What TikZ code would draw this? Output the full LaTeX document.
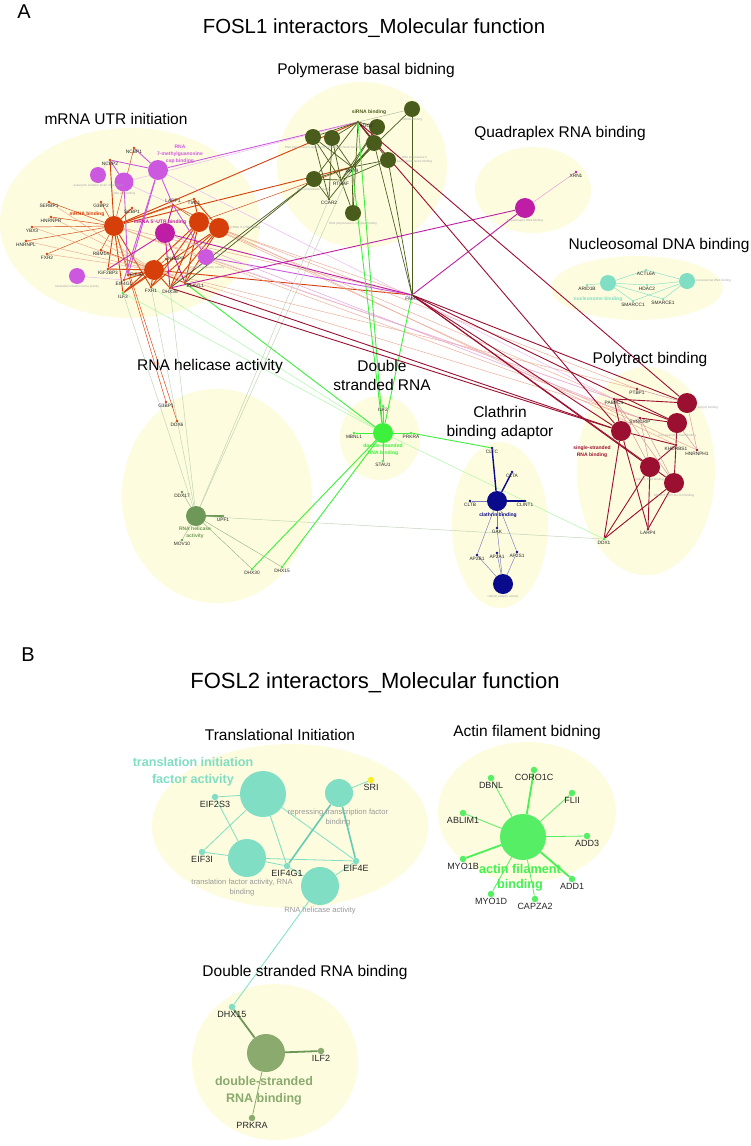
\documentclass[tikz,border=0pt]{standalone}
\usepackage{fontspec}
\setmainfont{Liberation Sans}
\usetikzlibrary{positioning}
\newcommand\myfs[2]{\fontsize{#1}{#2}\selectfont}
\definecolor{bgy}{RGB}{253,252,222}
\definecolor{cor}{RGB}{214,62,10}
\definecolor{cpk}{RGB}{205,88,224}
\definecolor{cmg}{RGB}{190,30,165}
\definecolor{cdg}{RGB}{74,92,28}
\definecolor{cgr}{RGB}{60,240,60}
\definecolor{ctl}{RGB}{128,222,196}
\definecolor{chl}{RGB}{110,152,88}
\definecolor{cnv}{RGB}{10,10,140}
\definecolor{ccr}{RGB}{155,15,48}
\definecolor{cac}{RGB}{85,238,100}
\definecolor{csg}{RGB}{138,170,110}
\definecolor{cyl}{RGB}{245,240,40}
\pgfdeclarelayer{ellay}
\pgfdeclarelayer{edlay}
\pgfsetlayers{ellay,edlay,main}
\begin{document}
\begin{tikzpicture}[x=1pt,y=-1pt,
  big/.style={circle,inner sep=0pt,minimum size=#1,draw=none},
  dt/.style={circle,inner sep=0pt,minimum size=2.6,fill=#1},
  bdt/.style={circle,inner sep=0pt,minimum size=6.5,fill=#1},
  gl/.style={font=\myfs{4.8}{5.5},text=black!85,inner sep=0.4pt},
  bgl/.style={font=\myfs{9}{10},text=black!85,inner sep=1pt},
  tl/.style={font=\myfs{3}{3.6},text=black!35,inner sep=0pt,align=center},
  ttl/.style={font=\myfs{15.5}{19},inner sep=0pt,align=center},
  cl/.style={font=\bfseries\myfs{5}{7},inner sep=0pt,align=center,text=#1},
  lk/.style={draw=#1,line width=0.9},
  lkt/.style={draw=#1,line width=0.45},
  lkf/.style={draw=#1!45,line width=0.45},
]
\useasboundingbox (0,0) rectangle (750,1146);
% ---------------- ellipses
\begin{pgfonlayer}{ellay}
\fill[white] (0,0) rectangle (750,1146);
\fill[bgy] (130,223) ellipse [x radius=130, y radius=95];
\fill[bgy] (362,165) ellipse [x radius=85, y radius=83];
\fill[bgy] (533,190) ellipse [x radius=58, y radius=43];
\fill[bgy] (637,288) ellipse [x radius=86, y radius=32];
\fill[bgy] (217,496) ellipse [x radius=95, y radius=107];
\fill[bgy] (380,438) ellipse [x radius=40, y radius=42];
\fill[bgy] (500,525) ellipse [x radius=48, y radius=83];
\fill[bgy] (646,471) ellipse [x radius=69, y radius=104];
\fill[bgy] (290,826) ellipse [x radius=138, y radius=82];
\fill[bgy] (527,812) ellipse [x radius=89, y radius=70];
\fill[bgy] (275,1062) ellipse [x radius=83, y radius=78];
\end{pgfonlayer}
% ---------------- titles
\node[font=\myfs{20}{22},inner sep=0] (tA) at (24,12) {A};
\node[font=\myfs{20.4}{24},inner sep=0] (tA1) at (374,28) {FOSL1 interactors\_Molecular function};
\node[ttl] (tpol) at (366,70) {Polymerase basal bidning};
\node[ttl] (tmrna) at (116,119) {mRNA UTR initiation};
\node[ttl] (tquad) at (560,133) {Quadraplex RNA binding};
\node[ttl] (tnuc) at (659,245) {Nucleosomal DNA binding};
\node[ttl] (thel) at (210,366) {RNA helicase activity};
\node[ttl] (tds) at (382,375) {Double\\stranded RNA};
\node[ttl] (tcl) at (500,423) {Clathrin\\binding adaptor};
\node[ttl] (tpoly) at (650,359) {Polytract binding};
% ---------------- mRNA cluster
\node[big=16,fill=cpk] (pk1) at (98,175) {};
\node[big=19,fill=cpk] (pk2) at (124,182) {};
\node[big=20,fill=cpk] (pk3) at (158,170) {};
\node[big=20,fill=cor] (om1) at (114,226) {};
\node[big=20,fill=cmg] (mg1) at (165,233) {};
\node[big=20,fill=cor] (om3) at (199,222) {};
\node[big=20,fill=cor] (om4) at (219,228) {};
\node[big=16,fill=cpk] (pk4) at (206,257) {};
\node[big=20,fill=cor] (om2) at (154,270) {};
\node[big=16,fill=cpk] (pk5) at (77,276) {};
\node[dt=cor,label={[gl]below:NCBP1}] (ncbp1) at (134,148) {};
\node[dt=cor,label={[gl]below:NCBP2}] (ncbp2) at (110,160) {};
\node[dt=cor,label={[gl]below:SERBP1}] (serbp1) at (49,202) {};
\node[dt=cor,label={[gl]below:HNRNPR}] (hnrnpr) at (51,217) {};
\node[dt=cor,label={[gl]below:YBX3}] (ybx3) at (32,227) {};
\node[dt=cor,label={[gl]below:HNRNPL}] (hnrnpl) at (26,241) {};
\node[dt=cor,label={[gl]below:FXR2}] (fxr2) at (47,254) {};
\node[dt=cor,label={[gl]below:G3BP2}] (g3bp2) at (101,202) {};
\node[dt=cor,label={[gl]below:SCBP1}] (scbp1) at (132,208) {};
\node[dt=cor,label={[gl]above:LARP1}] (larp1) at (173,205) {};
\node[dt=cor,label={[gl]below:TIAL1}] (tial1) at (194,199) {};
\node[dt=cor,label={[gl]below:RBM14}] (rbm14) at (101,250) {};
\node[dt=cor,label={[gl]below:IGF2BP3}] (igf2bp3) at (108,269) {};
\node[dt=cor,label={[gl]right:NHSPP}] (nhspp) at (166,259) {};
\node[dt=cor,label={[gl]right:EIF4E}] (eif4e) at (128,275) {};
\node[dt=cor,label={[gl]below:EIF4G1}] (eif4g1) at (124,280) {};
\node[dt=cgr,label={[gl]below:ILF3}] (ilf3) at (123,293) {};
\node[dt=cor,label={[gl]below:FXR1}] (fxr1) at (151,287) {};
\node[dt=cor,label={[gl]below:DHX36}] (dhx36) at (170,288) {};
\node[dt=cor,label={[gl]below right:ELAVL1}] (elavl1) at (185,283) {};
\node[cl=cor] (lmrna) at (87,214) {mRNA binding};
\node[cl=cmg] (l5utr) at (160,222) {mRNA 5'-UTR binding};
\node[cl=cpk] (lcap) at (180,154) {RNA\\7-methylguanosine\\cap binding};
\node[tl,below=0.5pt of pk1] (tpk1) {eukaryotic initiation factor 4E binding};
\node[tl,below=0.5pt of pk2] (tpk2) {RNA cap binding};
\node[tl,below=0.5pt of pk5] (tpk5) {translation initiation factor activity};
\node[tl,below=0.5pt of pk4] (tpk4) {translation regulator activity};
\node[tl,right=1pt of om4] (tom4) {mRNA 3'-UTR binding};
% ---------------- polymerase cluster
\node[big=16,fill=cdg] (p1) at (313,137) {};
\node[big=16,fill=cdg] (p2) at (332,138) {};
\node[big=16,fill=cdg] (p3) at (377,127) {};
\node[big=16,fill=cdg] (p4) at (412,109) {};
\node[big=16,fill=cdg] (p5) at (374,143) {};
\node[big=16,fill=cdg] (p6) at (388,160) {};
\node[big=16,fill=cdg] (p7) at (314,179) {};
\node[big=16,fill=cdg] (p8) at (353,213) {};
\node[dt=cdg,label={[gl]below right:AGO2}] (ago2) at (358,122) {};
\node[dt=cdg,label={[gl]below:DHX9}] (dhx9) at (352,167) {};
\node[dt=cdg,label={[gl]below:RTRAF}] (rtraf) at (341,180) {};
\node[dt=cdg,label={[gl]below:CCAR2}] (ccar2) at (329,199) {};
\node[cl=cdg] (lsirna) at (369,112) {siRNA binding};
\node[tl,below=0.5pt of p1,xshift=10pt] (tp1) {RNA polymerase II repressing transcription factor binding};
\node[tl,below=0.5pt of p7] (tp7) {RNA polymerase binding};
\node[tl,below=1pt of p8] (tp8) {RNA polymerase II complex binding};
\node[tl,below=0.5pt of p4] (tp4) {miRNA binding};
\node[tl,right=0.5pt of p6] (tp6) {RNA polymerase II\\transcription factor binding};
\node[dt=cdg,label={[gl]below:FMR1}] (fmr1) at (412,295) {};
% ---------------- quadraplex / nucleosomal
\node[big=20,fill=cmg] (qd) at (525,208) {};
\node[tl,below=1pt of qd] (tqd) {G-quadruplex RNA binding};
\node[dt=cmg,label={[gl]below:XRN1}] (xrn1) at (576,172) {};
\node[big=16,fill=ctl] (nb1) at (608,283) {};
\node[big=16,fill=ctl] (nb2) at (687,281) {};
\node[tl,right=1pt of nb2] (tnb2) {nucleosomal DNA binding};
\node[dt=ctl,label={[gl]below:ARID1B}] (arid1b) at (587,285) {};
\node[dt=ctl,label={[gl]below:ACTL6A}] (actl6a) at (646,270) {};
\node[dt=ctl,label={[gl]below:HDAC2}] (hdac2) at (647,285) {};
\node[dt=ctl,label={[gl]below:SMARCC1}] (smarcc1) at (633,301) {};
\node[dt=ctl,label={[gl]below:SMARCE1}] (smarce1) at (663,299) {};
\node[cl=ctl] (lnuc) at (598,299) {nucleosome binding};
% ---------------- helicase
\node[big=20,fill=chl] (hl) at (196,516) {};
\node[dt=cor,label={[gl]below:G3BP1}] (g3bp1) at (166,402) {};
\node[dt=cor,label={[gl]below:DDX6}] (ddx6) at (177,421) {};
\node[dt=chl,label={[gl]below:DDX17}] (ddx17) at (182,492) {};
\node[dt=chl,label={[gl]below:UPF1}] (upf1) at (223,516) {};
\node[dt=chl,label={[gl]below:MOV10}] (mov10) at (182,540) {};
\node[dt=cgr,label={[gl]below:DHX30}] (dhx30) at (252,569) {};
\node[dt=cgr,label={[gl]below:DHX15}] (dhx15) at (282,567) {};
\node[cl=chl] (lhel) at (195,533) {RNA helicase\\activity};
% ---------------- dsRNA
\node[big=20,fill=cgr] (ds) at (383,433) {};
\node[dt=cgr,label={[gl]below:ILF2}] (ilf2) at (383,406) {};
\node[dt=cgr,label={[gl]below:MBNL1}] (mbnl1) at (354,433) {};
\node[dt=cgr,label={[gl]below:PRKRA}] (prkra) at (411,433) {};
\node[dt=cgr,label={[gl]below:STAU1}] (stau1) at (383,461) {};
\node[cl=cgr] (lds) at (383,450) {double-stranded\\RNA binding};
% ---------------- clathrin
\node[big=20,fill=cnv] (cb) at (497,501) {};
\node[big=20,fill=cnv] (ca) at (503,584) {};
\node[tl,below=0.5pt of ca] (tca) {clathrin adaptor activity};
\node[dt=cnv,label={[gl]below:CLTC}] (cltc) at (492,448) {};
\node[dt=cnv,label={[gl]below:CLTA}] (clta) at (512,472) {};
\node[dt=cnv,label={[gl]below:CLTB}] (cltb) at (470,501) {};
\node[dt=cnv,label={[gl]below:CLINT1}] (clint1) at (525,501) {};
\node[dt=cnv,label={[gl]below:GAK}] (gak) at (497,528) {};
\node[dt=cnv,label={[gl]below:AP2B1}] (ap2b1) at (477,555) {};
\node[dt=cnv,label={[gl]below:AP2A1}] (ap2a1) at (497,553) {};
\node[dt=cnv,label={[gl]below:AP2S1}] (ap2s1) at (517,552) {};
\node[cl=cnv] (lcl) at (498,515) {clathrin binding};
% ---------------- polytract
\node[big=20,fill=ccr] (n1) at (687,403) {};
\node[big=20,fill=ccr] (n2) at (677,423) {};
\node[big=20,fill=ccr] (n3) at (621,431) {};
\node[big=20,fill=ccr] (n4) at (650,467) {};
\node[big=20,fill=ccr] (n5) at (674,483) {};
\node[tl,right=0.5pt of n1,yshift=-5pt] (tn1) {poly(A) binding};
\node[tl,below=0.5pt of n2] (tn2) {poly-pyrimidine tract binding};
\node[tl,below=0.5pt of n4] (tn4) {poly(U) RNA binding};
\node[tl,below=0.5pt of n5] (tn5) {mRNA 3'-UTR AU-rich binding};
\node[dt=ccr,label={[gl]below:PTBP1}] (ptbp1) at (637,389) {};
\node[dt=ccr,label={[gl]below:PABPC4}] (pabpc4) at (614,399) {};
\node[dt=ccr,label={[gl]below:SYNCRIP}] (syncrip) at (640,418) {};
\node[dt=ccr,label={[gl]below:KHDRBS1}] (khdrbs1) at (676,445) {};
\node[dt=ccr,label={[gl]below:HNRNPH1}] (hnrnph1) at (697,450) {};
\node[dt=ccr,label={[gl]below:LARP4}] (larp4) at (648,529) {};
\node[dt=cgr,label={[gl]below:DDX1}] (ddx1) at (604,539) {};
\node[cl=ccr] (lss) at (592,452) {single-stranded\\RNA binding};
% ---------------- edges part A
\begin{pgfonlayer}{edlay}
\foreach \a/\b in {om1/ilf3,om1/igf2bp3,om1/fxr1,om2/ilf3,om2/fxr1,om2/dhx36,om2/elavl1,om2/eif4e,om2/eif4g1,om2/igf2bp3,om3/ilf3,om3/fxr1,om3/dhx36,om3/elavl1,om4/fxr1,om4/dhx36,om4/elavl1,om4/ilf3,om1/ago2,om1/dhx9,om2/fmr1,om1/ncbp2,om1/larp1,om3/tial1,om4/tial1,om1/scbp1}
  \draw[lk=cor] (\a) -- (\b);
\foreach \a/\b in {om1/serbp1,om1/hnrnpr,om1/ybx3,om1/hnrnpl,om1/fxr2,om1/g3bp2,om1/rbm14,om1/ncbp1,om1/tial1,om2/rbm14,om2/nhspp,om3/larp1,om4/larp1,g3bp1/om1,ddx6/om1,om3/dhx9}
  \draw[lkt=cor] (\a) -- (\b);
\foreach \a/\b in {serbp1/om2,hnrnpr/om2,ybx3/om2,hnrnpl/om2,fxr2/om2,om1/pabpc4,om3/pabpc4,om4/ptbp1,om2/syncrip,om4/khdrbs1,om3/hnrnph1,om1/fmr1,om3/fmr1,om2/ptbp1,om1/syncrip}
  \draw[lkf=cor] (\a) -- (\b);
\foreach \a/\b in {pk3/ncbp1,pk3/ncbp2,pk2/ncbp2,pk3/larp1,pk3/eif4g1,pk3/eif4e,pk2/eif4e,pk4/larp1,pk4/fmr1,pk3/ago2}
  \draw[lk=cpk] (\a) -- (\b);
\foreach \a/\b in {pk2/larp1,pk5/eif4g1,pk2/ago2,pk4/dhx36,pk1/ncbp2,pk4/pabpc4,pk3/pabpc4}
  \draw[lkf=cpk] (\a) -- (\b);
\foreach \a/\b in {mg1/larp1,mg1/igf2bp3,mg1/dhx36,mg1/elavl1,mg1/fmr1,qd/fmr1,qd/dhx36}
  \draw[lk=cmg] (\a) -- (\b);
\foreach \a/\b in {qd/xrn1,mg1/syncrip}
  \draw[lkf=cmg] (\a) -- (\b);
\foreach \a/\b in {p1/ago2,p1/dhx9,p1/rtraf,p1/ccar2,p2/ago2,p2/dhx9,p2/rtraf,p2/ccar2,p3/ago2,p3/dhx9,p3/rtraf,p4/fmr1,p4/dhx9,p5/ago2,p5/dhx9,p5/rtraf,p5/ccar2,p5/fmr1,p6/dhx9,p6/rtraf,p6/fmr1,p6/ago2,p7/dhx9,p7/rtraf,p7/ago2,p7/ccar2,p8/ago2,p8/dhx9,p8/rtraf,p7/elavl1,p7/dhx36}
  \draw[lkt=cdg,line width=0.7] (\a) -- (\b);
\draw[lkf=cdg] (p4) -- (ago2);
\foreach \a/\b in {ds/ilf2,ds/mbnl1,ds/prkra,ds/stau1,ds/fmr1,ds/ago2,ds/dhx9,ds/elavl1,ds/dhx30,ds/dhx15,prkra/cltc}
  \draw[lk=cgr] (\a) -- (\b);
\foreach \a/\b in {ds/ilf3,ds/fxr1,ds/ddx1}
  \draw[lkf=cgr] (\a) -- (\b);
\draw[draw=chl,line width=1.5] (hl) -- (upf1);
\foreach \a/\b in {hl/ddx17,hl/mov10,hl/dhx30,hl/dhx15}
  \draw[lkt=chl!70] (\a) -- (\b);
\foreach \a/\b in {hl/ddx1,hl/dhx9,hl/ilf3,hl/fxr1,hl/dhx36,hl/ccar2}
  \draw[lkf=chl] (\a) -- (\b);
\foreach \a/\b in {fmr1/n1,fmr1/n2,fmr1/n3,fmr1/n4,fmr1/n5,ago2/n1,ago2/n3,dhx36/n3,elavl1/n3,n1/pabpc4,n2/pabpc4,n3/pabpc4,n2/syncrip,n2/khdrbs1,n3/khdrbs1,n4/khdrbs1,n5/khdrbs1,n3/ddx1,n4/ddx1,n5/ddx1,n3/larp4,n4/larp4,n5/larp4}
  \draw[lk=ccr] (\a) -- (\b);
\foreach \a/\b in {n1/hnrnph1,n2/hnrnph1,n1/ptbp1,n4/pabpc4,n5/syncrip,n4/syncrip,n5/pabpc4,n3/syncrip}
  \draw[lkf=ccr] (\a) -- (\b);
\foreach \a/\b in {cb/cltc,cb/clta,cb/clint1}
  \draw[draw=cnv,line width=1.4] (\a) -- (\b);
\foreach \a/\b in {cb/cltb,cb/gak,cb/ap2b1,cb/ap2s1,ca/ap2b1,ca/ap2a1,ca/ap2s1,ca/gak}
  \draw[lkt=cnv!55] (\a) -- (\b);
\foreach \a/\b in {nb1/arid1b,nb1/actl6a,nb1/hdac2,nb1/smarcc1,nb1/smarce1,nb2/actl6a,nb2/hdac2,nb2/smarcc1,nb2/smarce1}
  \draw[lkt=ctl] (\a) -- (\b);
\end{pgfonlayer}
% ================= PART B
\node[font=\myfs{20}{22},inner sep=0] (tB) at (28,655) {B};
\node[font=\myfs{22}{26},inner sep=0] (tB1) at (375,683) {FOSL2 interactors\_Molecular function};
\node[ttl] (ttrans) at (280,735) {Translational Initiation};
\node[ttl] (tact) at (527,732) {Actin filament bidning};
\node[ttl] (tdsb) at (305,972) {Double stranded RNA binding};
% translational
\node[big=46,fill=ctl] (t1) at (263,794) {};
\node[big=28,fill=ctl] (t2) at (339,793) {};
\node[big=38,fill=ctl] (t3) at (247,858) {};
\node[big=38,fill=ctl] (t4) at (320,886) {};
\node[bdt=ctl,label={[bgl]below:EIF2S3}] (eif2s3) at (215,797) {};
\node[bdt=ctl,label={[bgl]below:EIF3I}] (eif3i) at (202,852) {};
\node[bdt=ctl,label={[bgl]below:EIF4G1}] (beif4g1) at (287,866) {};
\node[bdt=ctl,label={[bgl]below:EIF4E}] (beif4e) at (356,861) {};
\node[bdt=cyl,label={[bgl]below:SRI}] (sri) at (371,780) {};
\node[font=\bfseries\myfs{12.6}{17},text=ctl,align=center,inner sep=0] (ltif) at (193,772) {translation initiation\\factor activity};
\node[font=\myfs{7.6}{10},text=black!40,align=center,inner sep=0] (lrep) at (338,818) {repressing transcription factor\\binding};
\node[font=\myfs{7.6}{10},text=black!40,align=center,inner sep=0] (ltfa) at (242,888) {translation factor activity, RNA\\binding};
\node[font=\myfs{7.6}{10},text=black!40,inner sep=0] (lrha) at (320,911) {RNA helicase activity};
% actin
\node[big=46,fill=cac] (ac) at (523,837) {};
\node[bdt=cac,label={[bgl]below:CORO1C}] (coro1c) at (534,770) {};
\node[bdt=cac,label={[bgl]below:DBNL}] (dbnl) at (491,778) {};
\node[bdt=cac,label={[bgl]below:FLII}] (flii) at (572,793) {};
\node[bdt=cac,label={[bgl]below:ABLIM1}] (ablim1) at (463,813) {};
\node[bdt=cac,label={[bgl]below:ADD3}] (add3) at (587,836) {};
\node[bdt=cac,label={[bgl]below:MYO1B}] (myo1b) at (463,859) {};
\node[bdt=cac,label={[bgl]below:ADD1}] (add1) at (572,879) {};
\node[bdt=cac,label={[bgl]below:MYO1D}] (myo1d) at (491,894) {};
\node[bdt=cac,label={[bgl]below:CAPZA2}] (capza2) at (535,899) {};
\node[font=\bfseries\myfs{12.7}{15},text=cac!80!green,align=center,inner sep=0] (lafb) at (520,878) {actin filament\\binding};
% ds B
\node[big=38,fill=csg] (bd) at (266,1053) {};
\node[bdt=ctl,label={[bgl]below:DHX15}] (bdhx15) at (232,1007) {};
\node[bdt=csg,label={[bgl]below:ILF2}] (bilf2) at (321,1051) {};
\node[bdt=csg,label={[bgl]below:PRKRA}] (bprkra) at (252,1118) {};
\node[font=\bfseries\myfs{12.5}{17},text=csg,align=center,inner sep=0] (ldsb) at (264,1091) {double-stranded\\RNA binding};
\begin{pgfonlayer}{edlay}
\foreach \a/\b in {t1/eif2s3,t1/eif3i,t1/beif4g1,t1/beif4e,t3/eif2s3,t3/eif3i,t3/beif4g1,t3/beif4e,t2/sri,t4/beif4g1,t4/beif4e}
  \draw[draw=ctl,line width=0.8] (\a) -- (\b);
\foreach \a/\b in {t2/beif4g1,t2/beif4e}
  \draw[draw=ctl!80!teal,line width=1.6] (\a) -- (\b);
\draw[draw=ctl,line width=0.8] (t4) -- (bdhx15);
\foreach \a in {coro1c,myo1b,add1}
  \draw[draw=cac!85!green,line width=1.8] (ac) -- (\a);
\foreach \a in {dbnl,flii,ablim1,add3,myo1d,capza2}
  \draw[draw=cac,line width=0.8] (ac) -- (\a);
\foreach \a in {bdhx15,bilf2}
  \draw[draw=chl,line width=1.8] (bd) -- (\a);
\draw[draw=csg,line width=0.8] (bd) -- (bprkra);
\end{pgfonlayer}
\end{tikzpicture}
\end{document}
